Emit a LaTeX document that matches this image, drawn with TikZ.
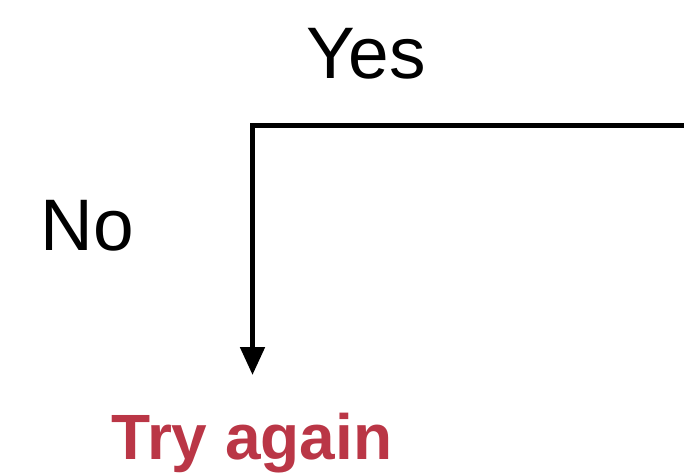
\documentclass[tikz,border=0pt]{standalone}
\usepackage{fontspec}
\setmainfont{Liberation Sans}
\usetikzlibrary{arrows.meta, positioning}
\definecolor{tryred}{RGB}{186,54,70}
\tikzset{
  lbl/.style={anchor=base, inner sep=0pt, font=\fontsize{73}{80}\selectfont},
  flow/.style={line width=5pt, -{Triangle[length=28pt, width=24pt]}}
}

\begin{document}
\begin{tikzpicture}[x=1pt, y=-1pt]
  \useasboundingbox (0,0) rectangle (684,472);
  \coordinate (corner) at (252.5,125); \coordinate (rightend) at (684,125);
  \coordinate (tip) at (252.5,375);
  \node[lbl] (yes) at (366,78) {Yes};
  \node[lbl] (no) at (87,250) {No};
  \node[lbl, font=\fontsize{64}{70}\selectfont\bfseries, text=tryred] (try) at (252,459) {Try again};
  \draw[flow] (rightend) -- (corner) -- (tip);
\end{tikzpicture}
\end{document}
